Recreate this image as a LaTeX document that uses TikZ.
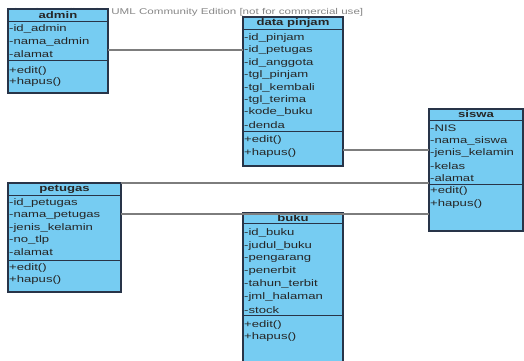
\documentclass[tikz,border=0pt]{standalone}
\usepackage{fontspec}
\setmainfont[FakeStretch=1.38]{Liberation Sans}
\definecolor{boxfill}{RGB}{118,204,242}
\definecolor{boxline}{RGB}{40,52,72}
\definecolor{connline}{RGB}{125,125,125}
\definecolor{wmark}{RGB}{135,135,135}
\begin{document}
\begin{tikzpicture}[x=1pt,y=-1pt,
  classbox/.style={draw=boxline,fill=boxfill,line width=1.1pt,anchor=north west,inner sep=0pt,outer sep=0pt},
  sepline/.style={draw=boxline,line width=0.9pt},
  attr/.style={anchor=west,inner sep=0pt,font=\fontsize{9.5}{10}\selectfont,text=black!85},
  head/.style={anchor=center,inner sep=0pt,font=\fontsize{9.5}{10}\selectfont\bfseries,text=black!85},
  conn/.style={draw=connline,line width=1.2pt}]
\useasboundingbox (0,0) rectangle (524,360);
\fill[white] (0,0) rectangle (524,360);
\clip (0,0) rectangle (524,360);

% watermark
\node[anchor=west,inner sep=0pt,text=wmark,font=\fontsize{8.4}{9}\selectfont] (wm) at (7,12.5) {Visual Paradigm for UML Community Edition [not for commercial use]};

% admin
\node[classbox,minimum width=100pt,minimum height=84pt] (admin) at (8,9) {};
\draw[sepline] (8,21) -- (108,21);
\draw[sepline] (8,60) -- (108,60);
\node[head] (adminH) at (58,15) {admin};
\node[attr] (a1) at (9,29) {-id\_admin};
\node[attr] (a2) at (9,42) {-nama\_admin};
\node[attr] (a3) at (9,54) {-alamat};
\node[attr] (a4) at (9,71) {+edit()};
\node[attr] (a5) at (9,82) {+hapus()};

% data pinjam
\node[classbox,minimum width=100pt,minimum height=149pt] (dp) at (243,17) {};
\draw[sepline] (243,29) -- (343,29);
\draw[sepline] (243,131) -- (343,131);
\node[head] (dpH) at (293,23) {data pinjam};
\node[attr] (d1) at (244,38) {-id\_pinjam};
\node[attr] (d2) at (244,50.4) {-id\_petugas};
\node[attr] (d3) at (244,62.8) {-id\_anggota};
\node[attr] (d4) at (244,75.2) {-tgl\_pinjam};
\node[attr] (d5) at (244,87.6) {-tgl\_kembali};
\node[attr] (d6) at (244,100) {-tgl\_terima};
\node[attr] (d7) at (244,112.4) {-kode\_buku};
\node[attr] (d8) at (244,124.8) {-denda};
\node[attr] (d9) at (244,140) {+edit()};
\node[attr] (d10) at (244,153) {+hapus()};

% siswa
\node[classbox,minimum width=94pt,minimum height=122pt] (siswa) at (429,109) {};
\draw[sepline] (429,120) -- (523,120);
\draw[sepline] (429,184) -- (523,184);
\node[head] (siswaH) at (476,114.5) {siswa};
\node[attr] (s1) at (430,128) {-NIS};
\node[attr] (s2) at (430,141) {-nama\_siswa};
\node[attr] (s3) at (430,153) {-jenis\_kelamin};
\node[attr] (s4) at (430,166) {-kelas};
\node[attr] (s5) at (430,178) {-alamat};
\node[attr] (s6) at (430,191) {+edit()};
\node[attr] (s7) at (430,204) {+hapus()};

% petugas
\node[classbox,minimum width=113pt,minimum height=109pt] (petugas) at (8,183) {};
\draw[sepline] (8,195) -- (121,195);
\draw[sepline] (8,260) -- (121,260);
\node[head] (petugasH) at (64.5,189) {petugas};
\node[attr] (p1) at (9,203) {-id\_petugas};
\node[attr] (p2) at (9,215) {-nama\_petugas};
\node[attr] (p3) at (9,228) {-jenis\_kelamin};
\node[attr] (p4) at (9,240) {-no\_tlp};
\node[attr] (p5) at (9,252) {-alamat};
\node[attr] (p6) at (9,268) {+edit()};
\node[attr] (p7) at (9,280) {+hapus()};

% buku
\node[classbox,minimum width=100pt,minimum height=152pt] (buku) at (243,213) {};
\draw[sepline] (243,223) -- (343,223);
\draw[sepline] (243,315) -- (343,315);
\node[head] (bukuH) at (293,218) {buku};
\node[attr] (b1) at (244,233) {-id\_buku};
\node[attr] (b2) at (244,245.8) {-judul\_buku};
\node[attr] (b3) at (244,258.6) {-pengarang};
\node[attr] (b4) at (244,271.4) {-penerbit};
\node[attr] (b5) at (244,284.2) {-tahun\_terbit};
\node[attr] (b6) at (244,297) {-jml\_halaman};
\node[attr] (b7) at (244,310) {-stock};
\node[attr] (b8) at (244,325) {+edit()};
\node[attr] (b9) at (244,337) {+hapus()};

% connector levels
\coordinate (yA) at (0,50);
\coordinate (yB) at (0,150);
\coordinate (yC) at (0,183);
\coordinate (yD) at (0,214);
\draw[conn] (admin.east |- yA) -- (dp.west |- yA);
\draw[conn] (dp.east |- yB) -- (siswa.west |- yB);
\draw[conn] (petugas.east |- yC) -- (siswa.west |- yC);
\draw[conn] (petugas.east |- yD) -- (siswa.west |- yD);
\end{tikzpicture}
\end{document}
